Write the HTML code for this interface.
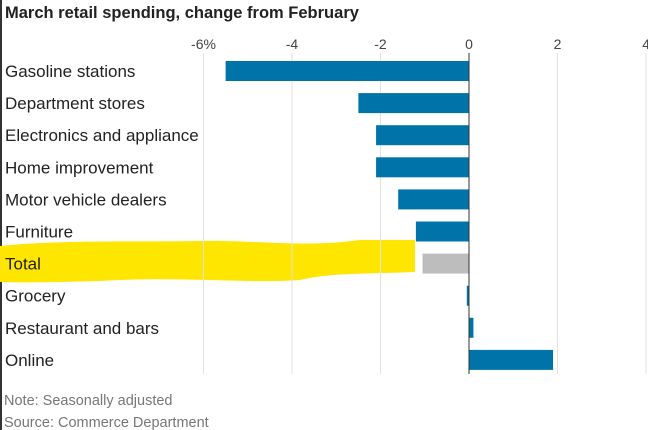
<!DOCTYPE html>
<html><head><meta charset="utf-8"><style>
body{margin:0;background:#fff;}
svg{display:block;font-family:"Liberation Sans",sans-serif;}
</style></head><body>
<svg id="c" width="648" height="430">
<line x1="1" y1="0" x2="1" y2="430" stroke="#333" stroke-width="2"/>
<text x="5" y="18" font-size="16.5" font-weight="bold" fill="#222">March retail spending, change from February</text>
<path d="M0 246 C60 240,120 242,200 241 C260 240,300 248,360 240 L415 240 L415 272 C360 274,330 273,300 280 C250 284,180 276,100 281 C60 282,30 283,0 282 Z" fill="#ffe600"/>
<g id="grid"></g><g id="bars"></g><g id="labels"></g>
<text x="4" y="405" font-size="14.5" fill="#777">Note: Seasonally adjusted</text>
<text x="4" y="427" font-size="14.5" fill="#777">Source: Commerce Department</text>
</svg>
<script>
const categories=["Gasoline stations","Department stores","Electronics and appliance","Home improvement","Motor vehicle dealers","Furniture","Total","Grocery","Restaurant and bars","Online"];
const values=[-5.5,-2.5,-2.1,-2.1,-1.6,-1.2,-1.05,-0.05,0.1,1.9];
const ticks=[-6,-4,-2,0,2,4];
const tickLabels=["-6%","-4","-2","0","2","4"];
const NS="http://www.w3.org/2000/svg";
const x=v=>469+v*44.25;
const y=i=>71+i*32.1;
function mk(t,a,p){const e=document.createElementNS(NS,t);for(const k in a)e.setAttribute(k,a[k]);p.appendChild(e);return e;}
const g=document.getElementById('grid'),b=document.getElementById('bars'),l=document.getElementById('labels');
ticks.forEach((t,i)=>{
 if(t!==0){const ln=mk('line',{x1:x(t),x2:x(t),y1:53,y2:374,stroke:'#e2e2e2','stroke-width':1},g);
 
 }
 const tx=mk('text',{x:x(t),y:49,'font-size':14,fill:'#444','text-anchor':i==ticks.length-1?'end':'middle'},g);
 if(i==ticks.length-1)tx.setAttribute('x',x(t)+4);
 tx.textContent=tickLabels[i];
 
 
});
categories.forEach((c,i)=>{
 const v=values[i];
 const r=mk('rect',{x:Math.min(x(0),x(v)),y:y(i)-10,width:Math.max(1,Math.abs(x(v)-x(0))),height:20,fill:c==="Total"?'#bdbdbd':'#0074a8'},b);
 
 
 const t=mk('text',{x:5,y:y(i)+6,'font-size':17,fill:'#222'},l);
 t.textContent=c;
 
 
});
const z=mk('line',{x1:x(0),x2:x(0),y1:53,y2:374,stroke:'#333','stroke-width':1},g.parentNode);


</script>
</body></html>
